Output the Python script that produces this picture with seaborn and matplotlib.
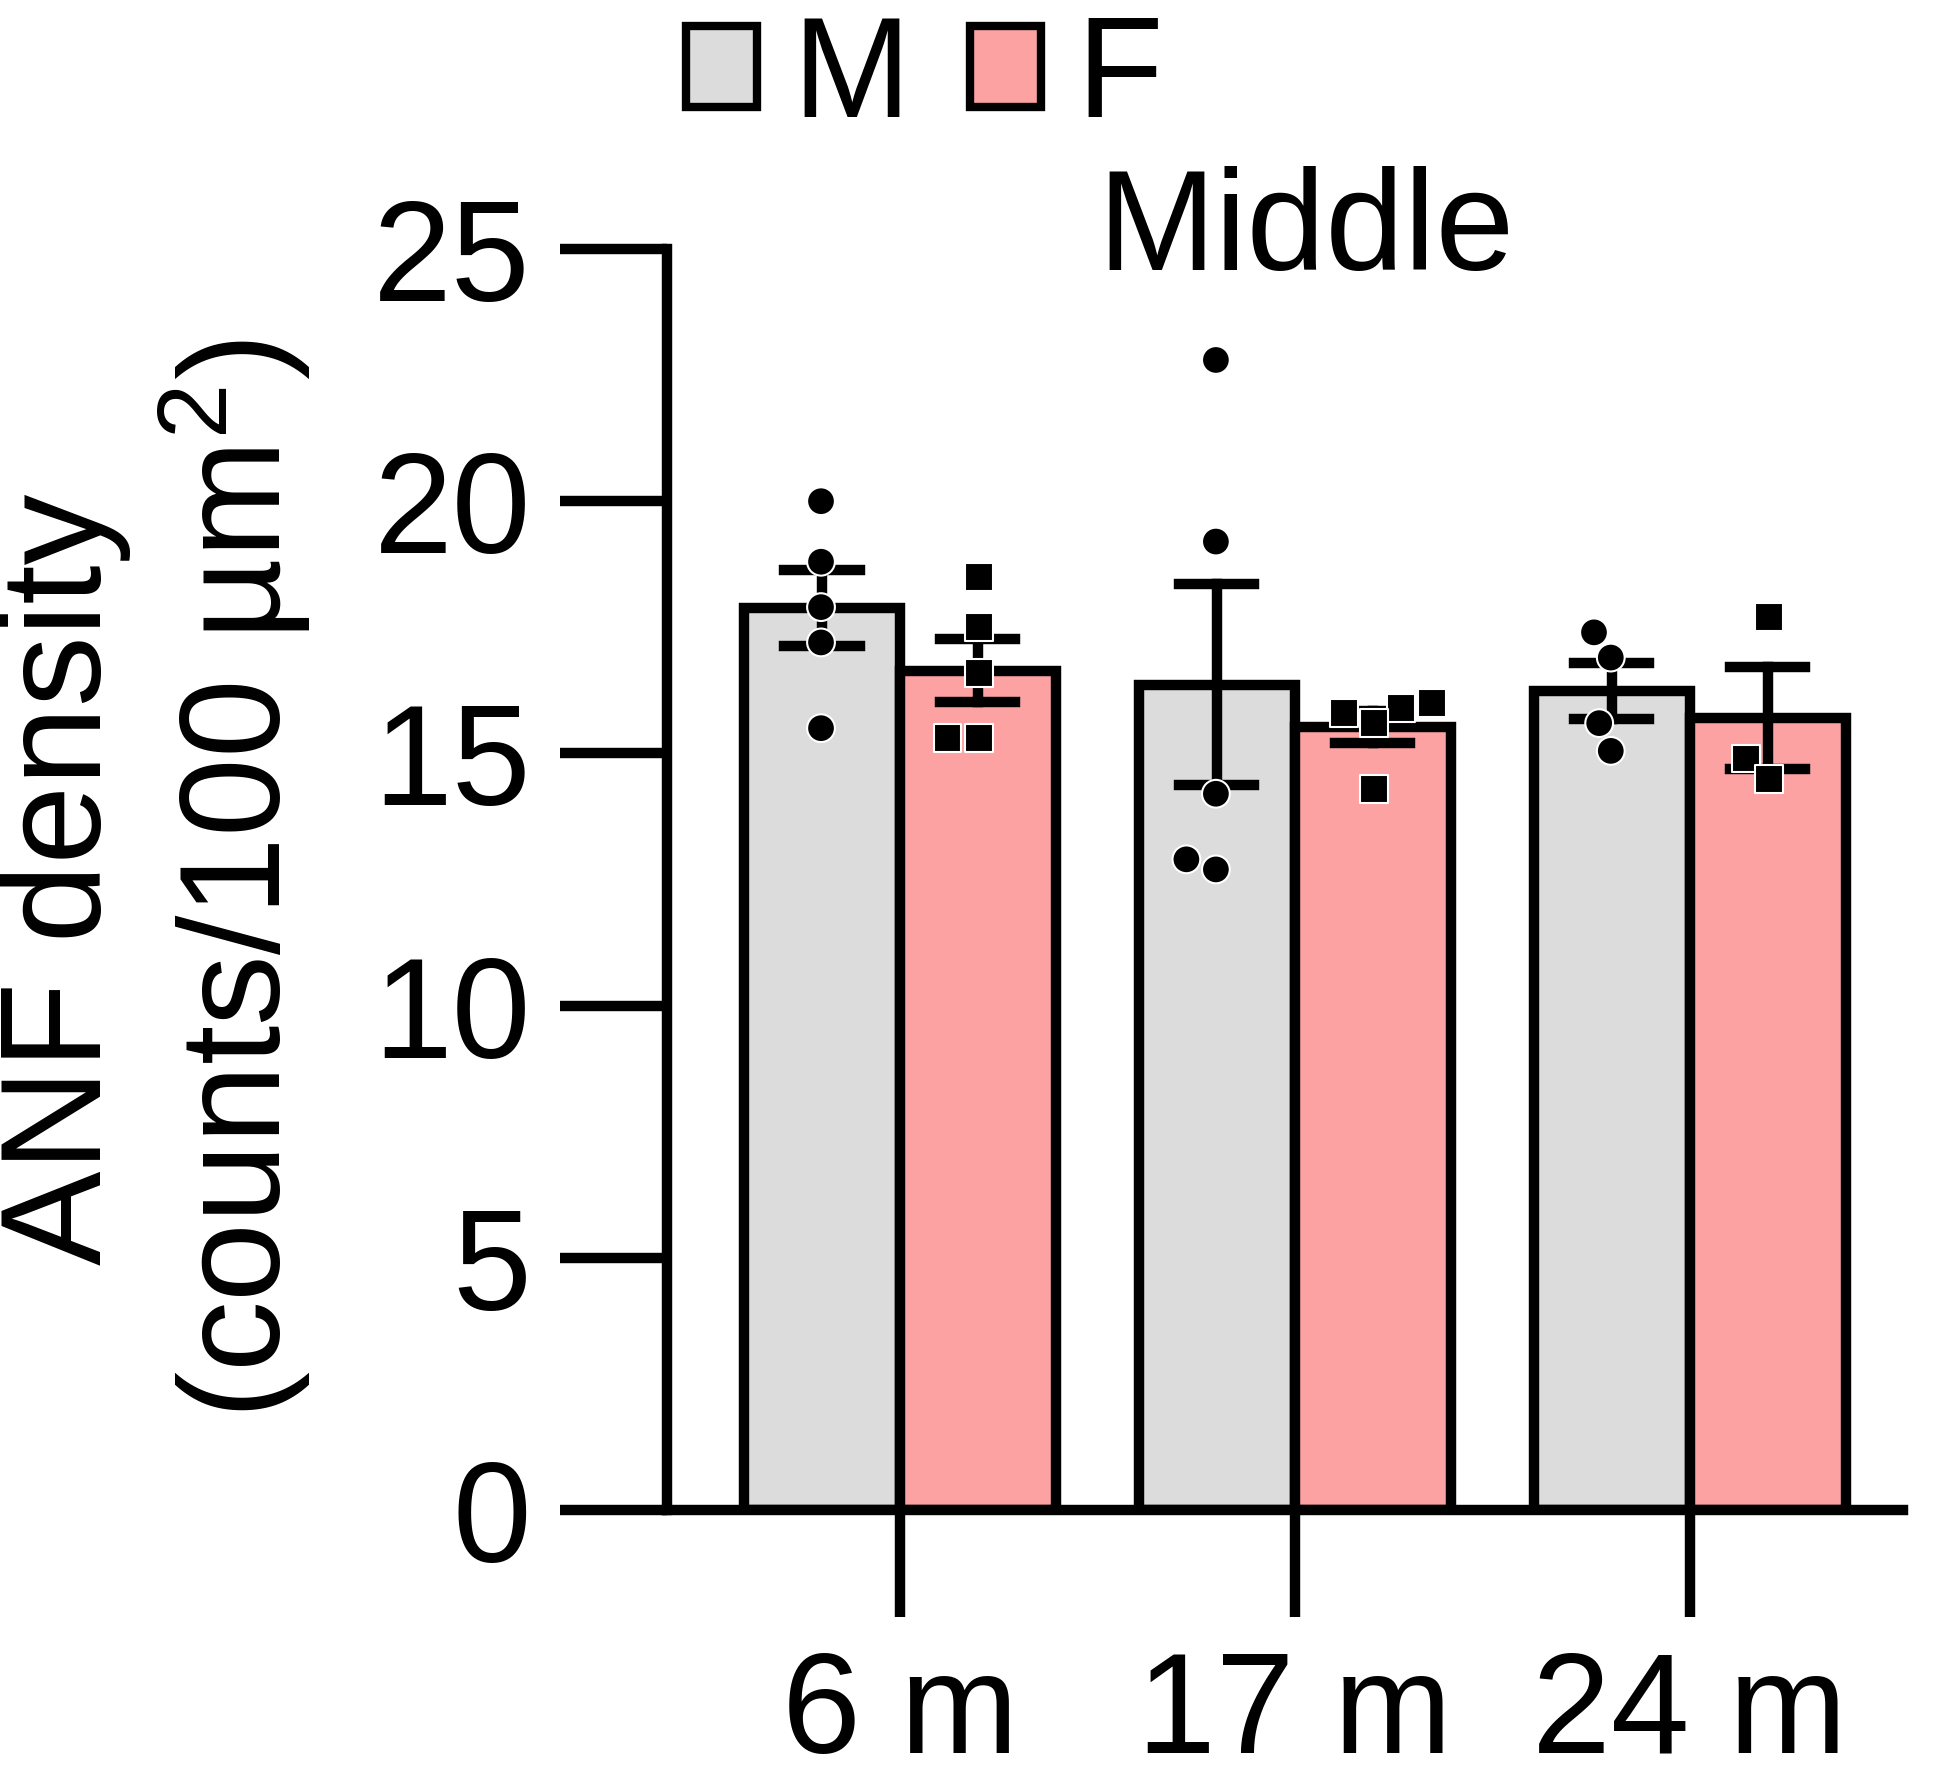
import numpy as np
import pandas as pd
import matplotlib
matplotlib.use("Agg")
import matplotlib.pyplot as plt
import seaborn as sns
from matplotlib.patches import Patch

# ---- data ----
ages = ["6 m", "17 m", "24 m"]
sexes = ["M", "F"]
m_6 = [20.0, 18.8, 17.9, 17.2, 15.5]
f_6 = [18.5, 17.5, 16.6, 15.3, 15.3]
m_17 = [22.8, 19.2, 14.2, 12.9, 12.7]
f_17 = [15.9, 15.8, 16.0, 15.6, 14.3]
m_24 = [17.4, 16.9, 15.6, 15.05]
f_24 = [17.7, 14.9, 14.5]
yticks = [0, 5, 10, 15, 20, 25]
title = "Middle"
ylabel = "ANF density\n(counts/100 µm$^2$)"
colors = {"M": "#DCDCDC", "F": "#FCA2A2"}

rows = []
for age, mv, fv in zip(ages, [m_6, m_17, m_24], [f_6, f_17, f_24]):
    rows += [(age, "M", v) for v in mv]
    rows += [(age, "F", v) for v in fv]
df = pd.DataFrame(rows, columns=["age", "sex", "val"])

plt.rcParams["font.family"] = ["Liberation Sans", "DejaVu Sans"]
plt.rcParams["mathtext.fontset"] = "custom"
plt.rcParams["mathtext.rm"] = "Liberation Sans"
plt.rcParams["mathtext.it"] = "Liberation Sans"

FS = 102
LW = 7.5

fig = plt.figure(figsize=(19.5, 17.76), dpi=100)
ax = fig.add_axes([667 / 1950, 1 - 1510 / 1776, (1903 - 667) / 1950, (1510 - 249) / 1776])

sns.barplot(data=df, x="age", y="val", hue="sex", order=ages, hue_order=sexes,
            palette=colors, saturation=1, errorbar="se", capsize=0.38, width=0.79, gap=0,
            edgecolor="black", linewidth=LW,
            err_kws={"color": "black", "linewidth": LW},
            legend=False, ax=ax)

for sex, mk in [("M", "o"), ("F", "s")]:
    sns.swarmplot(data=df[df.sex == sex], x="age", y="val", hue="sex",
                  order=ages, hue_order=sexes, dodge=True, marker=mk,
                  palette={"M": "black", "F": "black"}, size=20,
                  edgecolor="white", linewidth=1.5, legend=False, ax=ax)

ax.set_ylim(0, 25)
ax.set_xlim(-0.59, 2.54)
ax.set_yticks(yticks)
ax.set_yticklabels([str(t) for t in yticks])
ax.set_xlabel("")
ax.set_ylabel(ylabel, fontsize=FS, linespacing=1.2)
ax.yaxis.set_label_coords(-0.2864, 0.5)

for s in ["top", "right"]:
    ax.spines[s].set_visible(False)
for s in ["left", "bottom"]:
    ax.spines[s].set_linewidth(LW)
ax.tick_params(axis="both", length=77, width=LW, labelsize=FS, color="black")
ax.tick_params(axis="y", pad=21)
ax.tick_params(axis="x", pad=23)

fig.text(1306 / 1950, 1 - 270 / 1776, title, fontsize=FS, ha="center", va="baseline")

handles = [Patch(facecolor=colors[s], edgecolor="black", linewidth=6) for s in sexes]
fig.legend(handles, sexes, loc="center", bbox_to_anchor=(0.474, 1 - 80 / 1776),
           ncol=2, frameon=False, fontsize=FS, handlelength=0.5, handleheight=0.5,
           handletextpad=0.25, columnspacing=0.42, borderpad=0, borderaxespad=0)

fig.savefig("out.png", dpi=100)
